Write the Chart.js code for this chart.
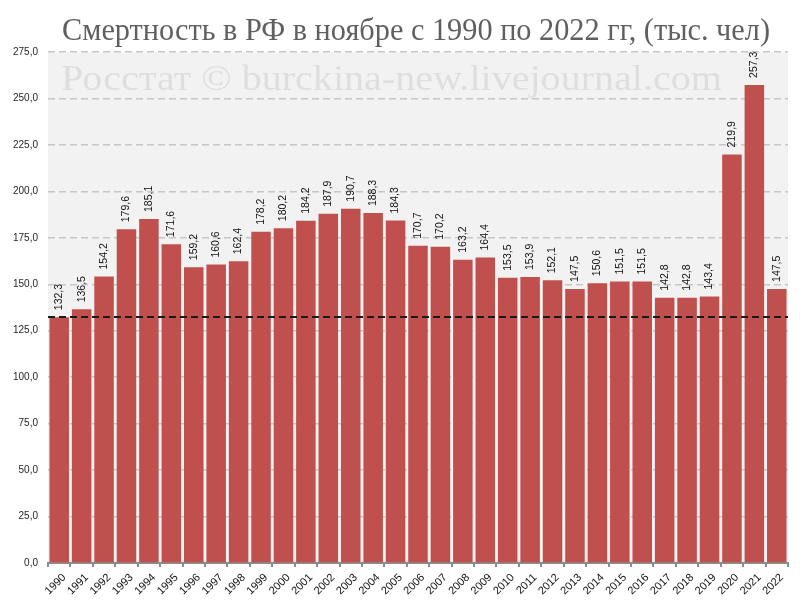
<!DOCTYPE html>
<html>
<head>
<meta charset="utf-8">
<script src="https://cdn.jsdelivr.net/npm/chart.js"></script>
<style>
  html, body { margin: 0; padding: 0; background: #ffffff; }
  #chart_box { width: 800px; height: 606px; }
</style>
</head>
<body>
<div id="chart_box"><canvas id="rmChart" width="800" height="606"></canvas></div>
<script>
//--------------------------------------
// deaths in RF in november, 1990-2022
//--------------------------------------

const years = ["1990", "1991", "1992", "1993", "1994", "1995", "1996", "1997", "1998", "1999",
    "2000", "2001", "2002", "2003", "2004", "2005", "2006", "2007", "2008", "2009",
    "2010", "2011", "2012", "2013", "2014", "2015", "2016", "2017", "2018", "2019",
    "2020", "2021", "2022"];
const deaths = [132.3, 136.5, 154.2, 179.6, 185.1, 171.6, 159.2, 160.6, 162.4, 178.2,
    180.2, 184.2, 187.9, 190.7, 188.3, 184.3, 170.7, 170.2, 163.2, 164.4,
    153.5, 153.9, 152.1, 147.5, 150.6, 151.5, 151.5, 142.8, 142.8, 143.4,
    219.9, 257.3, 147.5];
const y_min = 0;
const y_max = 275;
const y_step = 25;
const base_value = deaths[0];     // dashed line = level of 1990

const chart_title = "Смертность в РФ в ноябре с 1990 по 2022 гг, (тыс. чел)";
const watermark = "Росстат © burckina-new.livejournal.com";

const bar_color = "#c0504d";

// number format with decimal comma, e.g. 132,3
function fmt(value) {
    return Number(value).toFixed(1).replace(".", ",");
}

// draw text squeezed/stretched to a given width
function fitText(ctx, text, x, y, width, font, color) {
    ctx.save();
    ctx.font = font;
    ctx.fillStyle = color;
    ctx.textAlign = "left";
    ctx.textBaseline = "alphabetic";
    const w = ctx.measureText(text).width;
    ctx.translate(x, y);
    ctx.scale(width / w, 1);
    ctx.fillText(text, 0, 0);
    ctx.restore();
}

/* grey plot background, watermark and title */
const backgroundPlugin = {
    id: "backgroundPlugin",
    beforeDraw(chart) {
        const ctx = chart.ctx;
        const area = chart.chartArea;
        ctx.save();
        ctx.fillStyle = "#f2f2f2";
        ctx.fillRect(area.left, area.top, area.right - area.left, area.bottom - area.top);
        ctx.restore();
        fitText(ctx, watermark, 61, 90, 661, "36px 'Liberation Serif'", "#dedede");
        fitText(ctx, chart_title, 62, 40, 708, "31px 'Liberation Serif'", "#5f5f5f");
    }
};

/* value labels (vertical) and dashed base line */
const labelPlugin = {
    id: "labelPlugin",
    afterDatasetsDraw(chart) {
        const ctx = chart.ctx;
        const meta = chart.getDatasetMeta(0);
        ctx.save();
        ctx.font = "10.5px 'Liberation Sans'";
        ctx.fillStyle = "#111111";
        ctx.textAlign = "left";
        ctx.textBaseline = "middle";
        meta.data.forEach((bar, i) => {
            ctx.save();
            ctx.translate(bar.x, bar.y - 7);
            ctx.rotate(-Math.PI / 2);
            ctx.fillText(fmt(deaths[i]), 0, 0);
            ctx.restore();
        });

        const area = chart.chartArea;
        const y = Math.round(chart.scales.y.getPixelForValue(base_value));
        ctx.strokeStyle = "#1a1a1a";
        ctx.lineWidth = 2;
        ctx.setLineDash([7, 4]);
        ctx.beginPath();
        ctx.moveTo(area.left, y);
        ctx.lineTo(area.right, y);
        ctx.stroke();
        ctx.restore();
    }
};

const config = {
    type: "bar",
    data: {
        labels: years,
        datasets: [{
            data: deaths,
            backgroundColor: bar_color,
            borderWidth: 0,
            barPercentage: 0.87,
            categoryPercentage: 1.0
        }]
    },
    options: {
        responsive: false,
        animation: false,
        devicePixelRatio: 1,
        layout: { padding: { top: 52, right: 12, left: 0, bottom: 0 } },
        plugins: {
            legend: { display: false },
            title: { display: false },
            tooltip: { enabled: false }
        },
        scales: {
            x: {
                afterFit: (scale) => { scale.height = 43; },
                grid: {
                    display: true,
                    drawOnChartArea: false,
                    drawTicks: true,
                    tickLength: 4,
                    color: "#8c8c8c",
                    lineWidth: 2
                },
                border: { display: true, color: "#8c8c8c", width: 2 },
                ticks: {
                    autoSkip: false,
                    minRotation: 45,
                    maxRotation: 45,
                    padding: 4,
                    labelOffset: 5,
                    color: "#111111",
                    font: { family: "'Liberation Sans'", size: 11 }
                }
            },
            y: {
                min: y_min,
                max: y_max,
                afterFit: (scale) => { scale.width = 48; },
                grid: {
                    color: (c) => c.tick.value === 0 ? "rgba(0,0,0,0)" : "#c6c6c6",
                    lineWidth: 1.5,
                    drawTicks: false
                },
                border: { display: false, dash: [7, 4] },
                ticks: {
                    stepSize: y_step,
                    padding: 10,
                    color: "#262626",
                    font: { family: "'Liberation Sans'", size: 10 },
                    callback: (value) => fmt(value)
                }
            }
        }
    },
    plugins: [backgroundPlugin, labelPlugin]
};

const rmChart = new Chart(document.getElementById("rmChart"), config);
</script>
</body>
</html>
